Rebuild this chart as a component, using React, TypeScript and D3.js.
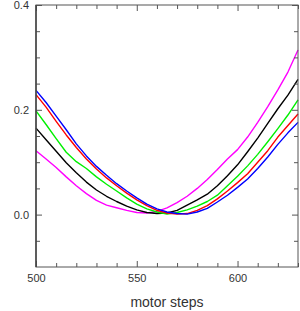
import { useEffect, useRef } from "react";
import * as d3 from "d3";

// motor positions sampled every 5 steps
const steps = [
  500, 505, 510, 515, 520, 525, 530, 535, 540, 545, 550, 555, 560, 565,
  570, 575, 580, 585, 590, 595, 600, 605, 610, 615, 620, 625, 630,
];

const magenta = [
  0.122, 0.106, 0.09, 0.072, 0.055, 0.04, 0.027, 0.018, 0.013, 0.008, 0.004,
  0.003, 0.006, 0.013, 0.023, 0.035, 0.05, 0.067, 0.086, 0.106, 0.124, 0.148,
  0.176, 0.206, 0.238, 0.272, 0.314,
];
const black = [
  0.165, 0.143, 0.121, 0.099, 0.08, 0.062, 0.047, 0.035, 0.025, 0.016, 0.009,
  0.004, 0.002, 0.003, 0.008, 0.018, 0.028, 0.039, 0.055, 0.074, 0.095, 0.12,
  0.146, 0.174, 0.202, 0.228, 0.258,
];
const green = [
  0.198, 0.172, 0.145, 0.119, 0.101, 0.088, 0.072, 0.058, 0.045, 0.032, 0.02,
  0.011, 0.005, 0.001, 0.004, 0.009, 0.016, 0.025, 0.037, 0.055, 0.073, 0.093,
  0.115, 0.139, 0.164, 0.19, 0.219,
];
const red = [
  0.229, 0.205, 0.178, 0.152, 0.128, 0.106, 0.087, 0.07, 0.055, 0.041, 0.028,
  0.017, 0.008, 0.003, 0.001, 0.002, 0.008, 0.017, 0.03, 0.045, 0.061, 0.078,
  0.1, 0.122, 0.148, 0.17, 0.192,
];
const blue = [
  0.237, 0.214, 0.188, 0.162, 0.135, 0.112, 0.092, 0.075, 0.059, 0.045, 0.032,
  0.02, 0.011, 0.005, 0.002, 0.001, 0.005, 0.012, 0.024, 0.037, 0.052, 0.068,
  0.088, 0.11, 0.134, 0.156, 0.176,
];

const xMajor = [500, 550, 600];
const xMinor = [510, 520, 530, 540, 560, 570, 580, 590, 610, 620, 630];
const yMajor = [0.0, 0.2, 0.4];
const yMinor = [-0.05, 0.05, 0.1, 0.15, 0.25, 0.3, 0.35];

const series = [
  { color: "#ff00ff", values: magenta },
  { color: "#000000", values: black },
  { color: "#00f000", values: green },
  { color: "#ff0000", values: red },
  { color: "#0000ff", values: blue },
];

export default function App() {
  const ref = useRef<SVGSVGElement>(null);

  useEffect(() => {
    if (!ref.current) return;
    const root = d3.select(ref.current);
    root.selectAll("*").remove();

    const W = 300;
    const H = 311;
    const margin = { top: 5, right: 2, bottom: 44, left: 36 };
    const width = W - margin.left - margin.right;
    const height = H - margin.top - margin.bottom;

    const x = d3.scaleLinear().domain([500, 630]).range([0, width]);
    const y = d3.scaleLinear().domain([-0.1, 0.4]).range([height, 0]);

    const g = root.append("g").attr("transform", `translate(${margin.left},${margin.top})`);

    const axisColor = "#555";
    const font = "Liberation Sans, Arial, sans-serif";

    // curves
    const line = d3
      .line<number>()
      .x((_, i) => x(steps[i]))
      .y((d) => y(d));

    series.forEach((s) => {
      g.append("path")
        .datum(s.values)
        .attr("d", line)
        .attr("fill", "none")
        .attr("stroke", s.color)
        .attr("stroke-width", 1.4)
        .attr("stroke-linejoin", "round");
    });

    // frame
    g.append("rect")
      .attr("x", 0)
      .attr("y", 0)
      .attr("width", width)
      .attr("height", height)
      .attr("fill", "none")
      .attr("stroke", axisColor)
      .attr("stroke-width", 1);

    const style = (sel: d3.Selection<SVGGElement, unknown, null, undefined>) => {
      sel.select(".domain").remove();
      sel.selectAll(".tick line").attr("stroke", axisColor);
    };

    // bottom axis
    g.append("g")
      .attr("transform", `translate(0,${height})`)
      .call(d3.axisBottom(x).tickValues(xMajor).tickSizeInner(-6).tickSizeOuter(0).tickPadding(7).tickFormat(d3.format("d")))
      .call(style)
      .call((a) =>
        a.selectAll(".tick text").attr("fill", "#333").style("font-family", font).style("font-size", "11px")
      );
    g.append("g")
      .attr("transform", `translate(0,${height})`)
      .call(d3.axisBottom(x).tickValues(xMinor).tickSizeInner(-4).tickSizeOuter(0).tickFormat(() => ""))
      .call(style);

    // top axis
    g.append("g")
      .call(d3.axisTop(x).tickValues(xMajor).tickSizeInner(-6).tickSizeOuter(0).tickFormat(() => ""))
      .call(style);
    g.append("g")
      .call(d3.axisTop(x).tickValues(xMinor).tickSizeInner(-4).tickSizeOuter(0).tickFormat(() => ""))
      .call(style);

    // left axis
    g.append("g")
      .call(d3.axisLeft(y).tickValues(yMajor).tickSizeInner(-6).tickSizeOuter(0).tickPadding(7).tickFormat(d3.format(".1f")))
      .call(style)
      .call((a) =>
        a.selectAll(".tick text").attr("fill", "#333").style("font-family", font).style("font-size", "11px")
      );
    g.append("g")
      .call(d3.axisLeft(y).tickValues(yMinor).tickSizeInner(-4).tickSizeOuter(0).tickFormat(() => ""))
      .call(style);

    // right axis
    g.append("g")
      .attr("transform", `translate(${width},0)`)
      .call(d3.axisRight(y).tickValues(yMajor).tickSizeInner(-6).tickSizeOuter(0).tickFormat(() => ""))
      .call(style);
    g.append("g")
      .attr("transform", `translate(${width},0)`)
      .call(d3.axisRight(y).tickValues(yMinor).tickSizeInner(-4).tickSizeOuter(0).tickFormat(() => ""))
      .call(style);

    // left axis line a bit heavier
    g.append("line")
      .attr("x1", 0)
      .attr("x2", 0)
      .attr("y1", 0)
      .attr("y2", height)
      .attr("stroke", "#444")
      .attr("stroke-width", 1.5);

    // x label
    g.append("text")
      .attr("x", width / 2)
      .attr("y", height + 40)
      .attr("text-anchor", "middle")
      .attr("fill", "#333")
      .style("font-family", font)
      .style("font-size", "14px")
      .text("motor steps");
  }, []);

  return (
    <svg
      ref={ref}
      width={300}
      height={311}
      style={{ position: "absolute", left: 0, top: 0, background: "#fff" }}
    />
  );
}
